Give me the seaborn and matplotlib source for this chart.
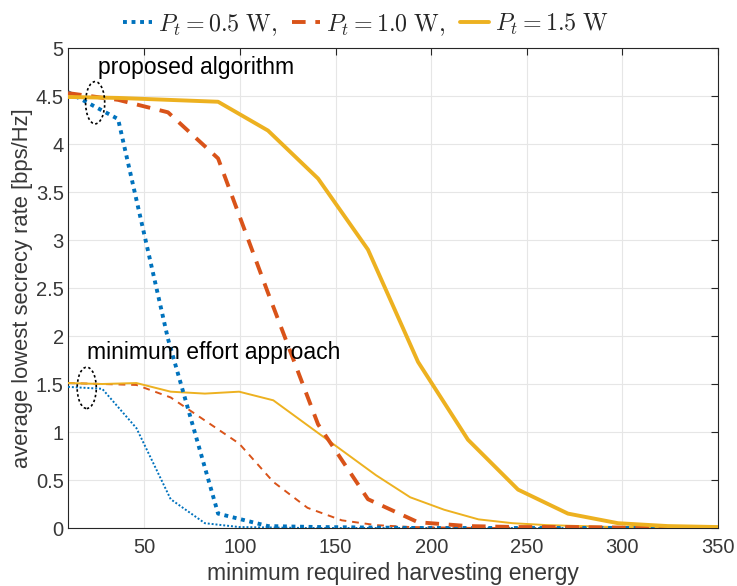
import numpy as np
import pandas as pd
import matplotlib
matplotlib.use("Agg")
import matplotlib.pyplot as plt
import seaborn as sns
from matplotlib.patches import Ellipse

# ---------------- data ----------------
x_prop = [10, 36.2, 62.3, 88.5, 114.6, 140.8, 166.9, 193.1, 219.2, 245.4, 271.5, 297.7, 323.8, 350]
prop_05 = [4.54, 4.26, 1.97, 0.15, 0.02, 0.01, 0.005, 0.0, 0.0, 0.0, 0.0, 0.0, 0.0, 0.0]
prop_10 = [4.53, 4.46, 4.33, 3.85, 2.45, 1.08, 0.30, 0.06, 0.02, 0.01, 0.01, 0.005, 0.0, 0.0]
prop_15 = [4.49, 4.48, 4.46, 4.44, 4.14, 3.64, 2.90, 1.73, 0.92, 0.40, 0.15, 0.05, 0.02, 0.01]

x_min = [10, 27.9, 45.8, 63.7, 81.6, 99.5, 117.4, 135.3, 153.2, 171.1,
         189.0, 206.8, 224.7, 242.6, 260.5, 278.4, 296.3, 314.2, 332.1, 350]
min_05 = [1.47, 1.45, 1.04, 0.30, 0.05, 0.01, 0.005, 0.0, 0.0, 0.0,
          0.0, 0.0, 0.0, 0.0, 0.0, 0.0, 0.0, 0.0, 0.0, 0.0]
min_10 = [1.51, 1.50, 1.49, 1.36, 1.12, 0.88, 0.48, 0.21, 0.08, 0.03,
          0.01, 0.005, 0.0, 0.0, 0.0, 0.0, 0.0, 0.0, 0.0, 0.0]
min_15 = [1.51, 1.50, 1.51, 1.42, 1.40, 1.42, 1.33, 1.07, 0.81, 0.55,
          0.32, 0.19, 0.09, 0.05, 0.03, 0.02, 0.01, 0.01, 0.005, 0.0]

labels = [r"$P_t = 0.5\ \mathrm{W},$", r"$P_t = 1.0\ \mathrm{W},$", r"$P_t = 1.5\ \mathrm{W}$"]
xticks = [50, 100, 150, 200, 250, 300, 350]
yticks = [0, 0.5, 1, 1.5, 2, 2.5, 3, 3.5, 4, 4.5, 5]
ytick_labels = ["0", "0.5", "1", "1.5", "2", "2.5", "3", "3.5", "4", "4.5", "5"]

colors = ["#0072BD", "#D95319", "#EDB120"]

# ---------------- style ----------------
sns.set_theme(style="white")
plt.rcParams["font.family"] = ["Liberation Sans", "DejaVu Sans"]
plt.rcParams["mathtext.fontset"] = "cm"

fig = plt.figure(figsize=(7.37, 5.86), dpi=100)
ax = fig.add_axes([68 / 737, 1 - 528 / 586, (718 - 68) / 737, (528 - 48) / 586])

thick = 2.8
thin = 1.4
styles = [(0, (1, 1.2)), (0, (3.5, 2.5)), "-"]
thin_styles = [(0, (1, 1.0)), (0, (3.5, 3.0)), "-"]

prop_series = [prop_05, prop_10, prop_15]
min_series = [min_05, min_10, min_15]

handles = []
for i in range(3):
    d = pd.DataFrame({"x": x_min, "y": min_series[i]})
    sns.lineplot(data=d, x="x", y="y", ax=ax, color=colors[i], lw=thin,
                 linestyle=thin_styles[i], legend=False, zorder=3)
for i in range(3):
    d = pd.DataFrame({"x": x_prop, "y": prop_series[i]})
    sns.lineplot(data=d, x="x", y="y", ax=ax, color=colors[i], lw=thick,
                 linestyle=styles[i], legend=False, zorder=4)
    handles.append(ax.lines[-1])

ax.set_xlim(10, 350)
ax.set_ylim(0, 5)
ax.set_xticks(xticks)
ax.set_yticks(yticks)
ax.set_yticklabels(ytick_labels)
ax.tick_params(axis="both", which="both", direction="in", length=5, width=0.8,
               labelsize=14.5, colors="#262626", top=True, right=True,
               labeltop=False, labelright=False)
ax.tick_params(axis="y", pad=3)
ax.tick_params(axis="x", pad=7)
for tl in ax.get_xticklabels() + ax.get_yticklabels():
    tl.set_color("#383838")
ax.grid(True, color="#e6e6e6", lw=0.8)
for s in ax.spines.values():
    s.set_color("#262626")
    s.set_linewidth(0.8)
    s.set_visible(True)

ax.set_xlabel("minimum required harvesting energy", fontsize=16.5, color="#383838", labelpad=4)
ax.set_ylabel("average lowest secrecy rate [bps/Hz]", fontsize=15.8, color="#383838", labelpad=2)

# annotations
ax.add_patch(Ellipse((24.2, 4.43), 10, 0.44, fill=False, ec="black", ls=(0, (1.5, 1.5)), lw=1.2, zorder=5))
ax.add_patch(Ellipse((19.8, 1.46), 10, 0.43, fill=False, ec="black", ls=(0, (1.5, 1.5)), lw=1.2, zorder=5))
ax.text(25.5, 4.80, "proposed algorithm", fontsize=16.5, va="center", ha="left", color="black", zorder=6)
ax.text(20.0, 1.83, "minimum effort approach", fontsize=16.5, va="center", ha="left", color="black", zorder=6)

fig.legend(handles, labels, loc="center", bbox_to_anchor=(0.4966, 0.958), ncol=3,
           frameon=False, fontsize=17.3, handlelength=1.2, handletextpad=0.25,
           columnspacing=0.6, borderpad=0.2)

fig.savefig("out.png", dpi=100)
